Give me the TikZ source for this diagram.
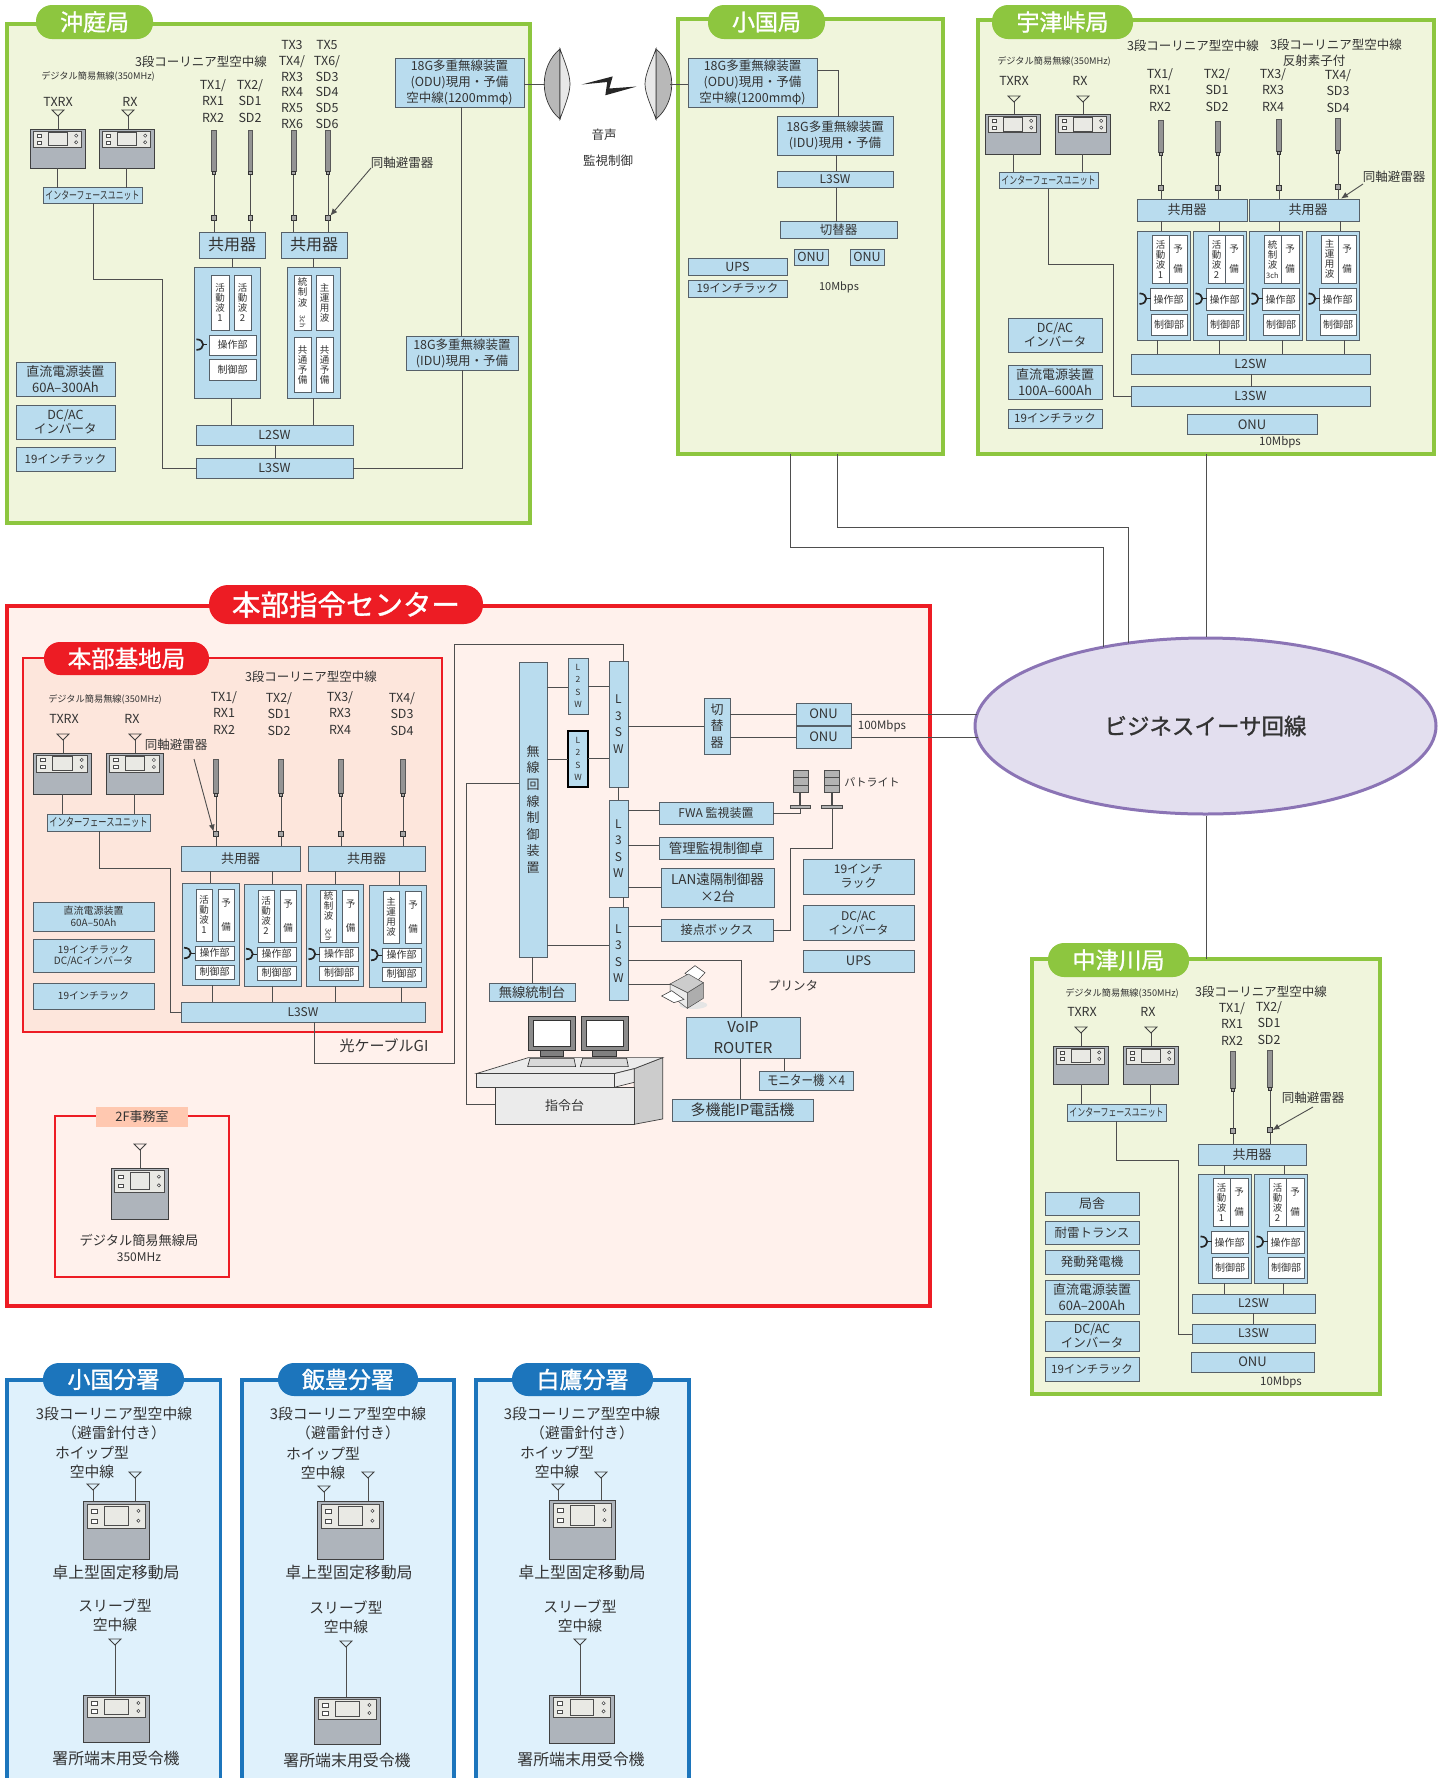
\documentclass[tikz,border=0pt]{standalone}
\usepackage{fontspec}
\usepackage{graphicx}
\usetikzlibrary{arrows.meta,shapes.geometric}
\setmainfont{Noto Sans CJK JP}
\newfontfamily\medf[FakeBold=1.2]{Noto Sans CJK JP}
\definecolor{lblue}{HTML}{B9DCEE}
\definecolor{edgec}{HTML}{566068}
\definecolor{wirec}{HTML}{4E4E4E}
\definecolor{txtc}{HTML}{333333}
\definecolor{gfill}{HTML}{F0F5DC}
\definecolor{gline}{HTML}{8DC63F}
\definecolor{rout}{HTML}{FFF1EC}
\definecolor{rin}{HTML}{FDE6DC}
\definecolor{rline}{HTML}{ED1C24}
\definecolor{bfill}{HTML}{DFF1FC}
\definecolor{bline}{HTML}{1C75BC}
\definecolor{devc}{HTML}{AEB4BB}
\definecolor{panc}{HTML}{E9E9E4}
\definecolor{ellf}{HTML}{E3DFEF}
\definecolor{elll}{HTML}{8B74B5}
\definecolor{salm}{HTML}{FFC8B0}
\newcommand\fz[2]{\fontsize{#1}{#2}\selectfont}
\newcommand\cn[1]{\scalebox{0.72}[1]{#1}}
\newcounter{lc}
\tikzset{
 bluebox/.style={draw=edgec,fill=lblue,line width=0.9pt,inner sep=0pt,outer sep=0pt,align=center,text=txtc,font=\fz{12.5}{16}},
 whitebox/.style={bluebox,fill=white,font=\fz{9.5}{10}},
 devbox/.style={bluebox,fill=devc,draw=black!75},
 rodbox/.style={bluebox,fill=black!42,draw=black!65},
 sqbox/.style={bluebox,fill=black!35,draw=black!80},
 panelg/.style={bluebox,fill=gfill,draw=gline,line width=3.1pt},
 panelb/.style={bluebox,fill=bfill,draw=bline,line width=3.4pt},
 pillg/.style={bluebox,fill=gline,draw=none,rounded corners=16pt,text=white,font=\medf\fz{23}{26}},
 pillr/.style={bluebox,fill=rline,draw=none,rounded corners=16pt,text=white,font=\medf\fz{23.5}{26}},
 pillb/.style={bluebox,fill=bline,draw=none,rounded corners=16pt,text=white,font=\medf\fz{23}{26}},
 lbl/.style={inner sep=0pt,outer sep=0pt,align=center,text=txtc,font=\fz{12.5}{16.2}},
 wire/.style={draw=wirec,line width=0.9pt},
 antn/.style={draw=black!75,line width=0.8pt},
 knobl/.style={draw=black!85,line width=1.7pt},
}
% [opts]{name}{x0}{y0}{x1}{y1}{text}
\newcommand\bx[7][]{\pgfmathsetmacro\bw{(#5)-(#3)}\pgfmathsetmacro\bh{(#6)-(#4)}\pgfmathsetmacro\bcx{((#3)+(#5))/2}\pgfmathsetmacro\bcy{((#4)+(#6))/2}\node[bluebox,minimum width=\bw pt,minimum height=\bh pt,#1] (#2) at (\bcx,\bcy) {#7};}
\newcommand\lab[4][]{\stepcounter{lc}\node[lbl,#1] (t\arabic{lc}) at (#2,#3) {#4};}
% {x}{y}
\newcommand\knob[2]{\draw[knobl] (#1,{#2-5.3}) .. controls ({#1+9},{#2-5.3}) and ({#1+9},{#2+5.3}) .. (#1,{#2+5.3}); \draw[knobl,line width=1pt] ({#1+6.5},#2) -- ({#1+11},#2);}
% {name}{x0}{y0}{x1}{y1}{antx}{anttop}
\newcommand\radio[7]{\bx[devbox]{#1}{#2}{#3}{#4}{#5}{}%
 \pgfmathsetmacro\rw{(#4)-(#2)}\pgfmathsetmacro\rh{(#5)-(#3)}%
 \begin{scope}[shift={(#2,#3)},x=\rw pt,y=-\rh pt]
  \draw[fill=panc,draw=black!70,line width=0.7pt] (.06,.05) rectangle (.94,.47);
  \draw[fill=white,draw=black!70,line width=0.6pt] (.13,.14) rectangle (.21,.21) (.13,.31) rectangle (.21,.38);
  \draw[fill=panc,draw=black!70,line width=0.6pt] (.33,.09) rectangle (.68,.42);
  \draw[fill=white,draw=black!70,line width=0.6pt] (.84,.17) circle (1.6pt) (.84,.34) circle (1.6pt);
 \end{scope}
 \draw[wire] (#1.north -| #6,0) -- (#6,{#7+5});
 \draw[antn] ({#6-6},#7) -- ({#6+6},#7) -- (#6,{#7+6}) -- cycle;}
% {name}{x}{y0}{y1}{sqy}{target}
\newcommand\rod[6]{\bx[rodbox]{#1r}{#2-2.4}{#3}{#2+2.4}{#4}{}\bx[sqbox]{#1c}{#2-1.8}{#4}{#2+1.8}{#4+3.5}{}\bx[sqbox]{#1s}{#2-2.4}{#5-2.4}{#2+2.4}{#5+2.4}{}%
 \draw[wire] (#1c.south) -- (#1s.north); \draw[wire] (#1s.south) -- (#1s.south |- #6.north);}
% Utsu / Nakatsu unit {name}{dx}{dy}{text}
\newcommand\uunit[4]{\begin{scope}[shift={(#2,#3)}]
 \bx{#1}{1137}{231}{1190}{340}{}
 \bx[whitebox]{#1a}{1152}{235.5}{1169}{283}{#4}
 \bx[whitebox,font=\fz{9.5}{20}]{#1b}{1169}{235.5}{1187}{283}{予\\備}
 \bx[whitebox,font=\fz{10}{12}]{#1c}{1150}{288.5}{1187}{310}{操作部}
 \bx[whitebox,font=\fz{10}{12}]{#1d}{1151}{314}{1187}{335.5}{制御部}
 \knob{1139.5}{298.7}
\end{scope}}
% Honbu unit
\newcommand\hunit[4]{\begin{scope}[shift={(#2,#3)}]
 \bx{#1}{182}{883}{239}{985}{}
 \bx[whitebox]{#1a}{196}{889}{212}{941}{#4}
 \bx[whitebox,font=\fz{9.5}{24}]{#1b}{218}{889}{234}{941}{予\\備}
 \bx[whitebox,font=\fz{10}{12}]{#1c}{195}{946}{234}{960}{操作部}
 \bx[whitebox,font=\fz{10}{12}]{#1d}{195}{965}{234}{979}{制御部}
 \knob{184}{953}
\end{scope}}
\begin{document}
\begin{tikzpicture}[x=1pt,y=-1pt]
\useasboundingbox (0,0) rectangle (1445,1778);
\clip (0,0) rectangle (1445,1778);
%================ Okiniwa
\bx[panelg]{oki}{7}{24}{530}{523}{}
\bx[pillg]{okiP}{36}{5}{153}{39}{沖庭局}
\lab[font=\fz{9.2}{11}]{98}{76}{デジタル簡易無線(350MHz)}
\lab{201}{62}{3段コーリニア型空中線}
\lab{58}{102}{TXRX}\lab{130}{102}{RX}
\radio{okD1}{30}{129}{85}{168}{58}{110}
\radio{okD2}{99}{129}{154}{168}{128}{110}
\bx[font=\fz{11}{13}]{okIF}{43}{187.5}{142}{203}{\cn{インターフェースユニット}}
\draw[wire] (okD1.south -| 57,0) -- (okIF.north -| 57,0);
\draw[wire] (okD2.south -| 126,0) -- (okIF.north -| 126,0);
\bx[font=\fz{16}{18}]{okC1}{199}{232}{265}{258}{共用器}
\bx[font=\fz{16}{18}]{okC2}{281}{232}{347}{258}{共用器}
\bx{okU1}{194}{267}{260}{398}{}
\bx[whitebox]{okU1a}{211}{275}{229}{330}{活\\動\\波\\1}
\bx[whitebox]{okU1b}{234}{275}{251}{330}{活\\動\\波\\2}
\bx[whitebox,font=\fz{10}{12}]{okU1c}{209}{335}{256}{355}{操作部}
\bx[whitebox,font=\fz{10}{12}]{okU1d}{209}{359}{256}{380}{制御部}
\knob{196.4}{344.6}
\bx{okU2}{287}{267}{340}{398}{}
\bx[whitebox,font=\fz{9.5}{10.5}]{okU2a}{294}{275}{311}{330}{統\\制\\波\\[-1pt]\rotatebox{-90}{\fz{7}{7}3ch}}
\bx[whitebox]{okU2b}{316}{275}{333}{330}{主\\運\\用\\波}
\bx[whitebox]{okU2c}{294}{337}{311}{392}{共\\通\\予\\備}
\bx[whitebox]{okU2d}{316}{337}{333}{392}{共\\通\\予\\備}
\bx{okL2}{196}{425}{353}{445}{L2SW}
\bx{okL3}{196}{458}{353}{478}{L3SW}
\bx[font=\fz{13}{16}]{okA}{16}{362.5}{115}{396}{直流電源装置\\60A–300Ah}
\bx[font=\fz{12.5}{14}]{okB}{16}{405}{115}{439}{DC/AC\\インバータ}
\bx[font=\fz{11.5}{14}]{okE}{16}{447}{115}{471}{19インチラック}
\bx[font=\fz{12.5}{16}]{okODU}{395}{58}{524}{107}{18G多重無線装置\\(ODU)現用・予備\\空中線(1200mmφ)}
\bx[font=\fz{12.5}{16}]{okIDU}{406}{336}{518}{370}{18G多重無線装置\\(IDU)現用・予備}
\rod{okR1}{214}{130}{171}{218}{okC1}
\rod{okR2}{250.5}{130}{171}{218}{okC1}
\rod{okR3}{293.6}{130}{171}{218}{okC2}
\rod{okR4}{328}{130}{171}{218}{okC2}
\lab{213}{101}{TX1/\\RX1\\RX2}
\lab{250}{101}{TX2/\\SD1\\SD2}
\lab[font=\fz{12.5}{15.9}]{292}{84.5}{TX3\\TX4/\\RX3\\RX4\\RX5\\RX6}
\lab[font=\fz{12.5}{15.9}]{327}{84.5}{TX5\\TX6/\\SD3\\SD4\\SD5\\SD6}
\lab{402}{163}{同軸避雷器}
\coordinate (okAr) at (371,168);
\draw[wire,-{Latex[length=7pt,width=6pt]}] (okAr) -- (okR4s.north east);
\draw[wire] (okC1.south -| 232,0) -- (okU1.north -| 232,0);
\draw[wire] (okC2.south -| 313,0) -- (okU2.north -| 313,0);
\draw[wire] (okU1.south -| 231.5,0) -- (okL2.north -| 231.5,0);
\draw[wire] (okU2.south -| 313,0) -- (okL2.north -| 313,0);
\draw[wire] (okL2.south -| 275,0) -- (okL3.north -| 275,0);
\draw[wire] (okIF.south -| 93,0) -- (93,279) -- (162,279) -- (162,468) -- (okL3.west |- 0,468);
\draw[wire] (okODU.south -| 461,0) -- (okIDU.north -| 461,0);
\draw[wire] (okIDU.south -| 462.5,0) -- (462.5,468) -- (okL3.east |- 0,468);
%================ dishes
\coordinate (dishL) at (545,84); \coordinate (dishR) at (670,84);
\draw[fill=black!28,draw=black!80,line width=0.7pt] (560,49) .. controls (539,66) and (539,102) .. (560,119) -- cycle;
\draw[fill=black!9,draw=black!80,line width=0.7pt] (560,49) .. controls (564,60) and (570,74) .. (570,84) .. controls (570,94) and (564,108) .. (560,119) -- cycle;
\draw[fill=black!28,draw=black!80,line width=0.7pt] (656,49) .. controls (677,66) and (677,102) .. (656,119) -- cycle;
\draw[fill=black!9,draw=black!80,line width=0.7pt] (656,49) .. controls (652,60) and (645,74) .. (645,84) .. controls (645,94) and (652,108) .. (656,119) -- cycle;
\fill[black!85] (581.7,84.5) -- (612.7,76.4) -- (609.3,88.5) -- (636.7,86.5) -- (605.3,95.3) -- (607.3,82) -- cycle;
\lab{604}{134.5}{音声}
\lab{608}{161}{監視制御}
%================ Oguni
\bx[panelg]{ogu}{678}{19}{943}{454}{}
\bx[pillg]{oguP}{708}{5}{825}{39}{小国局}
\bx{ogODU}{688}{58}{817}{107}{18G多重無線装置\\(ODU)現用・予備\\空中線(1200mmφ)}
\bx{ogIDU}{777}{116.5}{893}{155}{18G多重無線装置\\(IDU)現用・予備}
\bx[font=\fz{12}{14}]{ogL3}{777}{171}{893}{187.5}{L3SW}
\bx[font=\fz{12.5}{14}]{ogSW}{780}{221.6}{897}{238}{切替器}
\bx[font=\fz{12.5}{14}]{ogO1}{794}{249}{828}{265}{ONU}
\bx[font=\fz{12.5}{14}]{ogO2}{850}{249}{884}{265}{ONU}
\bx[font=\fz{12.5}{14}]{ogU}{688}{258}{787}{275}{UPS}
\bx[font=\fz{11.5}{14}]{ogE}{688}{280}{787}{297}{19インチラック}
\lab[font=\fz{11}{13}]{839}{287}{10Mbps}
\draw[wire] (okODU.east |- 0,84) -- (dishL);
\draw[wire] (dishR) -- (ogODU.west |- 0,84);
\draw[wire] (ogODU.east |- 0,70) -- (838,70) -- (ogIDU.north -| 838,0);
\draw[wire] (ogIDU.south -| 836,0) -- (ogL3.north -| 836,0);
\draw[wire] (ogL3.south -| 836,0) -- (ogSW.north -| 836,0);
%================ Utsu
\bx[panelg]{uts}{978}{20}{1434}{454}{}
\bx[pillg]{utP}{992}{5}{1133}{39}{宇津峠局}
\lab[font=\fz{9.2}{11}]{1054}{61.5}{デジタル簡易無線(350MHz)}
\lab{1193}{46}{3段コーリニア型空中線}
\lab{1336}{45}{3段コーリニア型空中線}
\lab{1314}{61}{反射素子付}
\lab{1014}{81}{TXRX}\lab{1080}{81}{RX}
\radio{utD1}{985}{114}{1040}{154}{1014}{96}
\radio{utD2}{1055}{114}{1110}{154}{1083}{96}
\bx[font=\fz{11}{13}]{utIF}{999}{172}{1098}{188.5}{\cn{インターフェースユニット}}
\draw[wire] (utD1.south -| 1013,0) -- (utIF.north -| 1013,0);
\draw[wire] (utD2.south -| 1082,0) -- (utIF.north -| 1082,0);
\bx[font=\fz{12.5}{14}]{utB}{1008}{318.5}{1102}{352}{DC/AC\\インバータ}
\bx[font=\fz{13}{16}]{utA}{1008}{365}{1102}{399}{直流電源装置\\100A–600Ah}
\bx[font=\fz{11.5}{14}]{utE}{1008}{409}{1102}{428}{19インチラック}
\bx{utL2}{1131}{354}{1370}{374}{L2SW}
\bx{utL3}{1131}{386.5}{1370}{406}{L3SW}
\bx[font=\fz{13}{14}]{utO}{1187}{414.5}{1317}{434}{ONU}
\lab[font=\fz{11.5}{13}]{1280}{442.5}{10Mbps}
\bx[font=\fz{13}{15}]{utC1}{1137}{199}{1247}{221}{\hspace*{-10pt}共用器}
\bx[font=\fz{13}{15}]{utC2}{1249}{199}{1359}{221}{\hspace*{8pt}共用器}
\uunit{utU1}{0}{0}{活\\動\\波\\1}
\uunit{utU2}{56}{0}{活\\動\\波\\2}
\uunit{utU3}{112}{0}{統\\制\\波\\\fz{7.5}{8}3ch}
\uunit{utU4}{169}{0}{主\\運\\用\\波}
\draw[wire] (utC1.south -| 1161,0) -- (utU1.north -| 1161,0);
\draw[wire] (utC1.south -| 1219,0) -- (utU2.north -| 1219,0);
\draw[wire] (utC2.south -| 1279,0) -- (utU3.north -| 1279,0);
\draw[wire] (utC2.south -| 1340,0) -- (utU4.north -| 1340,0);
\draw[wire] (utU1.south -| 1157,0) -- (utL2.north -| 1157,0);
\draw[wire] (utU2.south -| 1219,0) -- (utL2.north -| 1219,0);
\draw[wire] (utU3.south -| 1282,0) -- (utL2.north -| 1282,0);
\draw[wire] (utU4.south -| 1344,0) -- (utL2.north -| 1344,0);
\draw[wire] (utL2.south -| 1251,0) -- (utL3.north -| 1251,0);
\draw[wire] (utIF.south -| 1048,0) -- (1048,264.5) -- (1113,264.5) -- (1113,396) -- (utL3.west |- 0,396);
\rod{utR1}{1161}{120.6}{152}{188}{utC1}
\rod{utR2}{1218}{121}{152}{188}{utC1}
\rod{utR3}{1279}{119.5}{151}{188}{utC2}
\rod{utR4}{1338}{118.5}{150}{187}{utC2}
\lab{1160}{90}{TX1/\\RX1\\RX2}
\lab{1217}{90}{TX2/\\SD1\\SD2}
\lab{1273}{90}{TX3/\\RX3\\RX4}
\lab{1338}{91}{TX4/\\SD3\\SD4}
\lab{1394}{177}{同軸避雷器}
\coordinate (utAr) at (1363,184);
\coordinate (utArE) at (1341,198.6);
\draw[wire,-{Latex[length=7pt,width=6pt]}] (utAr) -- (utArE);
%================ Honbu centre
\bx[bluebox,fill=rout,draw=rline,line width=3.4pt]{hq}{7}{606}{930}{1306}{}
\bx[pillr,rounded corners=19pt,font=\medf\fz{28.5}{30}]{hqP}{209}{585}{483}{624}{本部指令センター}
\bx[bluebox,fill=rin,draw=rline,line width=1.8pt]{hb}{23}{658}{442}{1032}{}
\bx[pillr]{hbP}{44}{642}{209}{675}{本部基地局}
\lab{311}{677}{3段コーリニア型空中線}
\lab[font=\fz{9.2}{11}]{105}{699}{デジタル簡易無線(350MHz)}
\lab{64}{719}{TXRX}\lab{132}{719}{RX}
\radio{hbD1}{33}{753}{91}{794}{63}{734}
\radio{hbD2}{106}{753}{163}{794}{135}{734}
\bx[font=\fz{11.5}{13}]{hbIF}{47}{814}{150}{831}{\cn{インターフェースユニット}}
\draw[wire] (hbD1.south -| 62,0) -- (hbIF.north -| 62,0);
\draw[wire] (hbD2.south -| 134,0) -- (hbIF.north -| 134,0);
\bx[font=\fz{13}{15}]{hbC1}{181}{846}{300}{871}{共用器}
\bx[font=\fz{13}{15}]{hbC2}{308}{846}{425}{871}{共用器}
\hunit{hbU1}{0}{0}{活\\動\\波\\1}
\hunit{hbU2}{62}{1}{活\\動\\波\\2}
\hunit{hbU3}{124.5}{1}{統\\制\\波\\[-1pt]\rotatebox{-90}{\fz{7.5}{8}3ch}}
\hunit{hbU4}{187}{2}{主\\運\\用\\波}
\bx[font=\fz{12}{14}]{hbL3}{181}{1002}{425}{1022}{L3SW}
\bx[font=\fz{10}{12.5}]{hbA}{33}{902}{154}{931}{直流電源装置\\60A–50Ah}
\bx[font=\fz{10}{11}]{hbB}{33}{939}{154}{972}{19インチラック\\DC/ACインバータ}
\bx[font=\fz{10}{11}]{hbE}{33}{983}{154}{1009}{19インチラック}
\rod{hbR1}{216}{759}{793}{834}{hbC1}
\rod{hbR2}{281}{759}{793}{834}{hbC1}
\rod{hbR3}{341}{759}{793}{834}{hbC2}
\rod{hbR4}{403}{759}{793}{834}{hbC2}
\lab{224}{713}{TX1/\\RX1\\RX2}
\lab{279}{714}{TX2/\\SD1\\SD2}
\lab{340}{713}{TX3/\\RX3\\RX4}
\lab{402}{714}{TX4/\\SD3\\SD4}
\lab{176}{745}{同軸避雷器}
\coordinate (hbAr) at (194,759);
\draw[wire,-{Latex[length=7pt,width=6pt]}] (hbAr) -- (hbR1s.north west);
\draw[wire] (hbC1.south -| 210,0) -- (hbU1.north -| 210,0);
\draw[wire] (hbC1.south -| 272,0) -- (hbU2.north -| 272,0);
\draw[wire] (hbC2.south -| 335,0) -- (hbU3.north -| 335,0);
\draw[wire] (hbC2.south -| 399,0) -- (hbU4.north -| 399,0);
\draw[wire] (hbU1.south -| 212,0) -- (hbL3.north -| 212,0);
\draw[wire] (hbU2.south -| 272,0) -- (hbL3.north -| 272,0);
\draw[wire] (hbU3.south -| 335,0) -- (hbL3.north -| 335,0);
\draw[wire] (hbU4.south -| 401,0) -- (hbL3.north -| 401,0);
\draw[wire] (hbIF.south -| 99,0) -- (99,868) -- (170,868) -- (170,1012) -- (hbL3.west |- 0,1012);
\lab[font=\fz{15}{17}]{384}{1046}{光ケーブルGI}
% control room
\bx[font=\fz{13}{16.6}]{mu}{519}{662}{547}{957}{無\\線\\回\\線\\制\\御\\装\\置}
\bx[font=\fz{8.5}{12.3}]{L2a}{568}{658}{588}{714}{L\\2\\S\\W}
\bx[font=\fz{8.5}{12.3},draw=black,line width=1.3pt]{L2b}{568}{731}{588}{787}{L\\2\\S\\W}
\bx[font=\fz{12}{16.5}]{L3a}{609}{661}{628}{787}{L\\3\\S\\W}
\bx[font=\fz{12}{16.5}]{L3b}{609}{800}{628}{897}{L\\3\\S\\W}
\bx[font=\fz{12}{16.5}]{L3c}{609}{907}{628}{1000}{L\\3\\S\\W}
\bx[font=\fz{13}{16.7}]{hqSW}{704}{698}{730}{754}{切\\替\\器}
\bx[font=\fz{13}{15}]{on1}{796}{703}{851}{725}{ONU}
\bx[font=\fz{13}{15}]{on2}{796}{726}{851}{748}{ONU}
\lab[font=\fz{11.5}{13}]{882}{726}{100Mbps}
\bx[font=\fz{12}{14}]{fwa}{659}{802}{773}{824}{FWA 監視装置}
\bx[font=\fz{13.5}{15}]{kan}{659}{837}{773}{859}{管理監視制御卓}
\bx[font=\fz{13.5}{17}]{lan}{661}{868}{774}{907}{LAN遠隔制御器\\×2台}
\bx[font=\fz{12.2}{15}]{set}{661}{919}{773}{941}{接点ボックス}
\bx[font=\fz{12}{14}]{r19}{803}{859}{914}{894}{19インチ\\ラック}
\bx[font=\fz{12}{14}]{rdc}{803}{905}{914}{940}{DC/AC\\インバータ}
\bx[font=\fz{13}{15}]{rup}{803}{950}{914}{972}{UPS}
\bx[font=\fz{13.3}{15}]{ctl}{489}{983}{575}{1001}{無線統制台}
\bx[font=\fz{15}{20.5}]{voip}{686}{1017}{800}{1058}{VoIP\\ROUTER}
\bx[font=\fz{13.5}{15}]{mon}{759}{1071}{853}{1090}{\scalebox{0.85}[1]{モニター機 ×4}}
\bx[font=\fz{15}{17}]{ipt}{672}{1099}{813}{1121}{多機能IP電話機}
\lab{793}{986}{プリンタ}
\lab[font=\fz{11}{13}]{872}{782}{パトライト}
% patlights
\bx[fill=black!30,draw=black!70]{pt1}{793}{770}{808}{792}{}
\bx[fill=black!30,draw=black!70]{pt2}{824}{770}{839}{792}{}
\draw[black!70,line width=0.7pt] (793,777) -- (808,777) (793,785) -- (808,785) (824,777) -- (839,777) (824,785) -- (839,785);
\bx[fill=black!30,draw=black!70]{pb1}{790}{805}{810}{808}{}
\bx[fill=black!30,draw=black!70]{pb2}{821}{805}{842}{808}{}
\draw[draw=black!70,line width=2pt] (pt1.south -| 800,0) -- (pb1.north -| 800,0);
\draw[draw=black!70,line width=2pt] (pt2.south -| 832,0) -- (pb2.north -| 832,0);
% desk and monitors
\begin{scope}[shift={(450,630)},x=0.3333pt,y=-0.3333pt]
 \draw[fill=black!20,draw=black!75,line width=0.7pt] (553,1316) -- (638,1283) -- (638,1467) -- (553,1483) -- cycle;
 \draw[fill=black!8,draw=black!75,line width=0.7pt] (79,1331) -- (235,1283) -- (638,1283) -- (553,1316) -- (493,1331) -- cycle;
 \draw[fill=black!8,draw=black!75,line width=0.7pt] (493,1331) -- (553,1316) -- (553,1357) -- (493,1372) -- cycle;
 \draw[fill=black!8,draw=black!75,line width=0.7pt] (79,1331) rectangle (493,1372);
 \foreach \m in {0,158}{
  \draw[fill=black!45,draw=black!80,line width=0.7pt] (235+\m,1158) rectangle (377+\m,1262);
  \draw[fill=white,draw=black!80,line width=0.6pt] (250+\m,1172) rectangle (362+\m,1248);
  \draw[fill=black!50,draw=black!80,line width=0.6pt] (270+\m,1262) rectangle (340+\m,1280);
  \draw[fill=black!15,draw=black!85,line width=0.6pt] (240+\m,1285) -- (372+\m,1285) -- (377+\m,1310) -- (233+\m,1310) -- cycle;
 }
\end{scope}
% printer
\begin{scope}[shift={(660,960)},x=0.3333pt,y=-0.3333pt]
 \fill[black!10] (100,135) ellipse (14pt and 4pt);
 \draw[fill=white,draw=black!75,line width=0.6pt] (75,40) -- (105,17) -- (135,38) -- (110,65) -- cycle;
 \draw[fill=black!32,draw=black!70,line width=0.5pt] (82,98) -- (130,68) -- (130,115) -- (82,145) -- cycle;
 \draw[fill=black!20,draw=black!70,line width=0.5pt] (30,72) -- (85,42) -- (130,68) -- (82,98) -- cycle;
 \draw[fill=black!8,draw=black!70,line width=0.5pt] (30,72) -- (82,98) -- (82,145) -- (30,105) -- cycle;
 \draw[fill=white,draw=black!75,line width=0.6pt] (5,108) -- (35,92) -- (72,118) -- (42,128) -- cycle;
\end{scope}
\coordinate (prn) at (670,984);
\bx[fill=black!8,draw=black!75,font=\fz{13}{15}]{desk}{495}{1087.5}{634}{1124}{指令台}
% wires of control room
\draw[wire] (hbL3.south -| 314,0) -- (314,1063) -- (454,1063) -- (454,644) -- (623,644) -- (L3a.north -| 623,0);
\draw[wire] (mu.east |- 0,687) -- (L2a.west |- 0,687);
\draw[wire] (L2a.east |- 0,686) -- (L3a.west |- 0,686);
\draw[wire] (mu.east |- 0,759) -- (L2b.west |- 0,759);
\draw[wire] (L2b.east |- 0,758) -- (L3a.west |- 0,758);
\draw[wire] (L3a.east |- 0,726) -- (hqSW.west |- 0,726);
\draw[wire] (hqSW.east |- 0,714) -- (on1.west |- 0,714);
\draw[wire] (hqSW.east |- 0,737) -- (on2.west |- 0,737);
\draw[wire] (L3a.south -| 618,0) -- (L3b.north -| 618,0);
\draw[wire] (L3b.south -| 623,0) -- (L3c.north -| 623,0);
\draw[wire] (L3b.east |- 0,810) -- (fwa.west |- 0,810);
\draw[wire] (L3b.east |- 0,845) -- (kan.west |- 0,845);
\draw[wire] (L3b.east |- 0,887) -- (lan.west |- 0,887);
\draw[wire] (L3c.east |- 0,926) -- (set.west |- 0,926);
\draw[wire] (mu.east |- 0,945) -- (L3c.west |- 0,945);
\draw[wire] (mu.south -| 532,0) -- (ctl.north -| 532,0);
\draw[wire] (L3c.east |- 0,960) -- (741,960) -- (voip.north -| 741,0);
\draw[wire] (L3c.east |- 0,984) -- (prn);
\draw[wire] (voip.south -| 740,0) -- (ipt.north -| 740,0);
\draw[wire] (voip.south -| 784,0) -- (mon.north -| 784,0);
\draw[wire] (fwa.east |- 0,813) -- (800,813) -- (pb1.south -| 800,0);
\draw[wire] (set.east |- 0,930) -- (790,930) -- (790,848) -- (832,848) -- (pb2.south -| 832,0);
\draw[wire] (mu.west |- 0,783) -- (466,783) -- (466,1104) -- (desk.west |- 0,1104);
% 2F office
\bx[bluebox,fill=rout,draw=rline,line width=1.8pt]{off}{55}{1116}{229}{1277}{}
\bx[fill=salm,draw=none,font=\fz{13}{15}]{offP}{96}{1107}{188}{1127}{2F事務室}
\radio{offD}{111}{1168}{168}{1219}{140}{1144}
\lab[font=\fz{13.2}{16}]{139}{1240}{デジタル簡易無線局}
\lab[font=\fz{12}{14}]{139}{1257}{350MHz}
%================ Ellipse
\node[draw=elll,fill=ellf,line width=3pt,ellipse,minimum width=461pt,minimum height=176pt,inner sep=0pt,text=txtc,font=\medf\fz{22.5}{24}] (biz) at (1205.5,726) {ビジネスイーサ回線};
\coordinate (bizA) at (1103,647); \coordinate (bizB) at (1128,643);
\coordinate (bizL1) at (977,714); \coordinate (bizL2) at (978,737);
\draw[wire] (on1.east |- 0,714) -- (bizL1);
\draw[wire] (on2.east |- 0,737) -- (bizL2);
\draw[wire] (ogu.south -| 790,0) -- (790,547) -- (1103,547) -- (bizA);
\draw[wire] (ogu.south -| 837,0) -- (837,527) -- (1128,527) -- (bizB);
\draw[wire] (uts.south -| 1206,0) -- (biz.north -| 1206,0);
%================ Nakatsugawa
\bx[panelg]{nak}{1032}{959}{1380}{1394}{}
\bx[pillg]{nakP}{1048}{943}{1189}{977}{中津川局}
\draw[wire] (biz.south -| 1206,0) -- (nak.north -| 1206,0);
\lab[font=\fz{9.2}{11}]{1122}{993}{デジタル簡易無線(350MHz)}
\lab{1261}{992}{3段コーリニア型空中線}
\lab{1082}{1012}{TXRX}\lab{1148}{1012}{RX}
\radio{naD1}{1053}{1046}{1108}{1084}{1081}{1027}
\radio{naD2}{1123}{1046}{1178}{1084}{1151}{1027}
\bx[font=\fz{11}{13}]{naIF}{1067}{1104}{1166}{1121}{\cn{インターフェースユニット}}
\draw[wire] (naD1.south -| 1081,0) -- (naIF.north -| 1081,0);
\draw[wire] (naD2.south -| 1150,0) -- (naIF.north -| 1150,0);
\bx[font=\fz{13}{15}]{naA}{1045}{1192}{1139}{1215}{局舎}
\bx[font=\fz{12.5}{15}]{naB}{1045}{1221}{1139}{1244}{耐雷トランス}
\bx[font=\fz{12.5}{15}]{naCC}{1045}{1250}{1139}{1274}{発動発電機}
\bx[font=\fz{13}{16}]{naDD}{1045}{1280}{1139}{1314}{直流電源装置\\60A–200Ah}
\bx[font=\fz{12.5}{14}]{naE}{1045}{1321}{1139}{1351}{DC/AC\\インバータ}
\bx[font=\fz{11.5}{14}]{naF}{1045}{1357}{1139}{1381}{19インチラック}
\bx[font=\fz{13}{15}]{naC}{1198}{1144}{1306}{1165}{共用器}
\uunit{naU1}{61}{943}{活\\動\\波\\1}
\uunit{naU2}{117}{943}{活\\動\\波\\2}
\bx[font=\fz{12}{14}]{naL2}{1192}{1294}{1315}{1313}{L2SW}
\bx[font=\fz{12}{14}]{naL3}{1192}{1324}{1315}{1343}{L3SW}
\bx[font=\fz{13}{14}]{naO}{1191}{1352}{1314}{1372}{ONU}
\lab[font=\fz{11.5}{13}]{1281}{1382}{10Mbps}
\rod{naR1}{1233}{1051}{1088}{1131}{naC}
\rod{naR2}{1270}{1050}{1087}{1130}{naC}
\lab{1232}{1024}{TX1/\\RX1\\RX2}
\lab{1269}{1023}{TX2/\\SD1\\SD2}
\lab{1313}{1098}{同軸避雷器}
\coordinate (naAr) at (1313,1107);
\draw[wire,-{Latex[length=7pt,width=6pt]}] (naAr) -- (naR2s.east);
\draw[wire] (naC.south -| 1224,0) -- (naU1.north -| 1224,0);
\draw[wire] (naC.south -| 1284,0) -- (naU2.north -| 1284,0);
\draw[wire] (naU1.south -| 1224,0) -- (naL2.north -| 1224,0);
\draw[wire] (naU2.south -| 1283,0) -- (naL2.north -| 1283,0);
\draw[wire] (naL2.south -| 1253,0) -- (naL3.north -| 1253,0);
\draw[wire] (naIF.south -| 1116,0) -- (1116,1160) -- (1178,1160) -- (1178,1334) -- (naL3.west |- 0,1334);
%================ Branches
\bx[panelb]{p1}{7}{1380}{220.5}{1800}{}
\bx[pillb]{p1P}{43}{1363}{184}{1396}{小国分署}
\bx[panelb]{p2}{242}{1380}{454}{1800}{}
\bx[pillb]{p2P}{278}{1363}{418}{1396}{飯豊分署}
\bx[panelb]{p3}{476}{1380}{689}{1800}{}
\bx[pillb]{p3P}{512}{1363}{653}{1396}{白鷹分署}
\tikzset{lb/.style={font=\fz{14.8}{19}},lc/.style={font=\fz{15.9}{18}}}
% panel 1
\lab[lb]{114}{1423.5}{3段コーリニア型空中線\\（避雷針付き）}
\lab[lb]{92}{1462}{ホイップ型\\空中線}
\radio{p1a}{83}{1501}{149}{1559}{135}{1472}
\draw[wire] (p1a.north -| 93,0) -- (93,1489);
\draw[antn] (87,1484) -- (99,1484) -- (93,1490) -- cycle;
\lab[lc]{116}{1572}{卓上型固定移動局}
\lab[lb]{115}{1615.5}{スリーブ型\\空中線}
\radio{p1b}{83}{1695}{149}{1742}{115}{1639}
\lab[lc]{116}{1758}{署所端末用受令機}
% panel 2
\lab[lb]{348}{1423}{3段コーリニア型空中線\\（避雷針付き）}
\lab[lb]{323}{1463.5}{ホイップ型\\空中線}
\radio{p2a}{317}{1501}{383}{1559}{368}{1472}
\draw[wire] (p2a.north -| 324,0) -- (324,1491);
\draw[antn] (318,1486) -- (330,1486) -- (324,1492) -- cycle;
\lab[lc]{349}{1572}{卓上型固定移動局}
\lab[lb]{346}{1617.5}{スリーブ型\\空中線}
\radio{p2b}{314}{1697}{380}{1744}{346}{1641}
\lab[lc]{347}{1760}{署所端末用受令機}
% panel 3
\lab[lb]{582}{1423.5}{3段コーリニア型空中線\\（避雷針付き）}
\lab[lb]{557}{1462.5}{ホイップ型\\空中線}
\radio{p3a}{549}{1500}{615}{1559}{601}{1472}
\draw[wire] (p3a.north -| 558,0) -- (558,1489);
\draw[antn] (552,1484) -- (564,1484) -- (558,1490) -- cycle;
\lab[lc]{582}{1572}{卓上型固定移動局}
\lab[lb]{580}{1616.5}{スリーブ型\\空中線}
\radio{p3b}{549}{1695}{614}{1743}{580}{1639}
\lab[lc]{581}{1759}{署所端末用受令機}
\end{tikzpicture}
\end{document}
